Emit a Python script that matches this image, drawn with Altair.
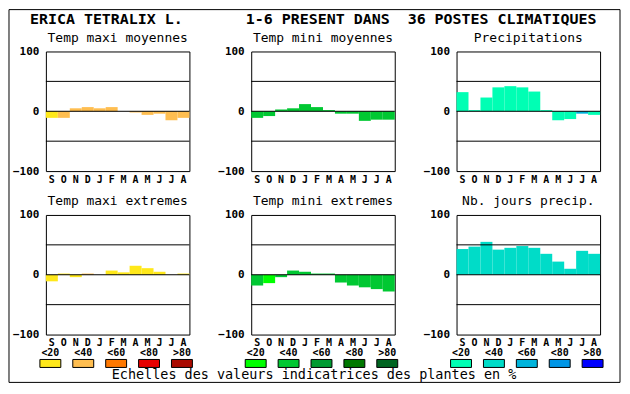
import altair as alt
import pandas as pd

FONT = "DejaVu Sans Mono"

months = ["Sep", "Oct", "Nov", "Dec", "Jan", "Feb", "Mar", "Apr", "May", "Jun", "Jul", "Aug"]

main_title = "ERICA TETRALIX L." + "\u00a0" * 7 + "1-6 PRESENT DANS" + "\u00a0" * 2 + "36 POSTES CLIMATIQUES"
bottom_text = "Echelles des valeurs indicatrices des plantes en %"

titles = ["Temp maxi moyennes", "Temp mini moyennes", "Precipitations",
          "Temp maxi extremes", "Temp mini extremes", "Nb. jours precip."]

tmax_moy = [-11, -11, 5, 7, 5, 7, 0, -2, -6, -4, -15, -11]
tmin_moy = [-11, -8, 3, 5, 12, 7, 2, -4, -4, -16, -14, -14]
precip = [32, 2, 23, 40, 42, 40, 33, 2, -15, -13, -4, -6]
tmax_ext = [-11, 2, -4, 2, 0, 7, 4, 15, 11, 5, 0, 2]
tmin_ext = [-18, -14, -4, 7, 5, 2, 2, -13, -18, -21, -24, -28]
nb_jours = [43, 47, 55, 42, 45, 48, 45, 35, 22, 10, 40, 35]

# class (0..4 -> <20 .. >80) of each bar
tmax_moy_cls = [0, 1, 1, 1, 1, 1, 1, 1, 1, 1, 1, 1]
tmin_moy_cls = [1, 1, 1, 1, 1, 1, 1, 1, 1, 1, 1, 1]
precip_cls = [0, 0, 0, 0, 0, 0, 0, 0, 0, 0, 2, 0]
tmax_ext_cls = [0, 0, 0, 1, 0, 0, 0, 0, 0, 0, 0, 0]
tmin_ext_cls = [1, 0, 1, 1, 1, 1, 1, 1, 1, 1, 1, 1]
nb_jours_cls = [1, 1, 1, 1, 1, 1, 1, 1, 1, 1, 1, 1]

scale_labels = ["<20", "<40", "<60", "<80", ">80"]
pal_tmax = ["#FFE81A", "#FFBE50", "#FF7800", "#E60000", "#AA0A00"]
pal_tmin = ["#00FF00", "#00C832", "#009B32", "#007800", "#006420"]
pal_prec = ["#00FFB4", "#00DCC8", "#00B4DC", "#0096E6", "#0000FF"]

label_style = dict(labelFont=FONT, labelFontSize=10, labelFontWeight="bold", labelColor="black")
ylabel_style = dict(labelFont=FONT, labelFontSize=11, labelFontWeight="bold", labelColor="black")


def panel(title, values, classes, palette):
    df = pd.DataFrame({"month": months, "value": values,
                       "color": [palette[c] for c in classes]})
    yscale = alt.Scale(domain=[-100, 100], nice=False, zero=False)
    bars = alt.Chart(df).mark_bar(strokeWidth=0).encode(
        x=alt.X("month:O", sort=months,
                scale=alt.Scale(paddingInner=0, paddingOuter=0),
                axis=alt.Axis(title=None, labelAngle=0, ticks=False, tickSize=0, domain=False,
                              grid=False, labelPadding=3,
                              labelExpr="substring(datum.label, 0, 1)", **label_style)),
        y=alt.Y("value:Q", scale=yscale,
                axis=alt.Axis(values=[-100, -50, 0, 50, 100], title=None, grid=False, ticks=False,
                              tickSize=0, domain=False, labelPadding=7, labelFlush=False,
                              labelOverlap=False, **ylabel_style)),
        y2=alt.datum(0),
        color=alt.Color("color:N", scale=None),
    )
    grid = alt.Chart(pd.DataFrame({"g": [-50, 0, 50]})).mark_rule(
        color="black", strokeWidth=1).encode(y=alt.Y("g:Q", scale=yscale))
    return alt.layer(bars, grid).properties(
        width=144, height=120,
        title=alt.TitleParams(title, font=FONT, fontSize=13, fontWeight="normal", color="black",
                              offset=-9.5, baseline="alphabetic", frame="group", anchor="middle"))


def legend(palette, title=None, frame=False):
    df = pd.DataFrame({"lab": scale_labels, "color": palette, "row": ["r"] * 5})
    boxes = alt.Chart(df).mark_rect(stroke="black", strokeWidth=1).encode(
        x=alt.X("lab:N", sort=scale_labels,
                scale=alt.Scale(range=[-12, 153], paddingInner=0.364, paddingOuter=0.182),
                axis=alt.Axis(orient="top", title=None, labelAngle=0, ticks=False, tickSize=0,
                              domain=False, grid=False, labelPadding=2, offset=19, **label_style)),
        y=alt.Y("row:N", scale=alt.Scale(range=[-19, -11], paddingInner=0, paddingOuter=0),
                axis=None),
        color=alt.Color("color:N", scale=None),
    )
    props = dict(width=144, height=8, view=alt.ViewBackground(stroke="transparent"))
    if title:
        props["title"] = alt.TitleParams(title, font=FONT, fontSize=13.5, fontWeight="normal",
                                         color="black", orient="bottom", offset=-7.5,
                                         baseline="alphabetic", frame="group", anchor="middle",
                                         dx=-9)
    if frame:
        border = alt.Chart(pd.DataFrame({"a": [0]})).mark_rect(
            fill="transparent", stroke="black", strokeWidth=1).encode(
            x=alt.value(-449), x2=alt.value(164), y=alt.value(-370), y2=alt.value(4))
        return alt.layer(boxes, border).properties(**props)
    return boxes.properties(**props)


p1 = panel(titles[0], tmax_moy, tmax_moy_cls, pal_tmax)
p2 = panel(titles[1], tmin_moy, tmin_moy_cls, pal_tmin)
p3 = panel(titles[2], precip, precip_cls, pal_prec)
p4 = panel(titles[3], tmax_ext, tmax_ext_cls, pal_tmax)
p5 = panel(titles[4], tmin_ext, tmin_ext_cls, pal_tmin)
p6 = panel(titles[5], nb_jours, nb_jours_cls, pal_prec)

l1 = legend(pal_tmax)
l2 = legend(pal_tmin, title=bottom_text)
l3 = legend(pal_prec, frame=True)

chart = alt.concat(
    p1, p2, p3, p4, p5, p6, l1, l2, l3,
    columns=3, spacing={"row": 44, "column": 62}, bounds="flush"
).properties(
    padding=0, background="white",
    title=alt.TitleParams(main_title, font=FONT, fontSize=15, fontWeight="bold", color="black",
                          offset=-30, baseline="alphabetic", frame="bounds", anchor="start", dx=22),
).configure_view(stroke="black", strokeWidth=1)

chart.save("out.html", embed_options={"renderer": "svg", "actions": False})
